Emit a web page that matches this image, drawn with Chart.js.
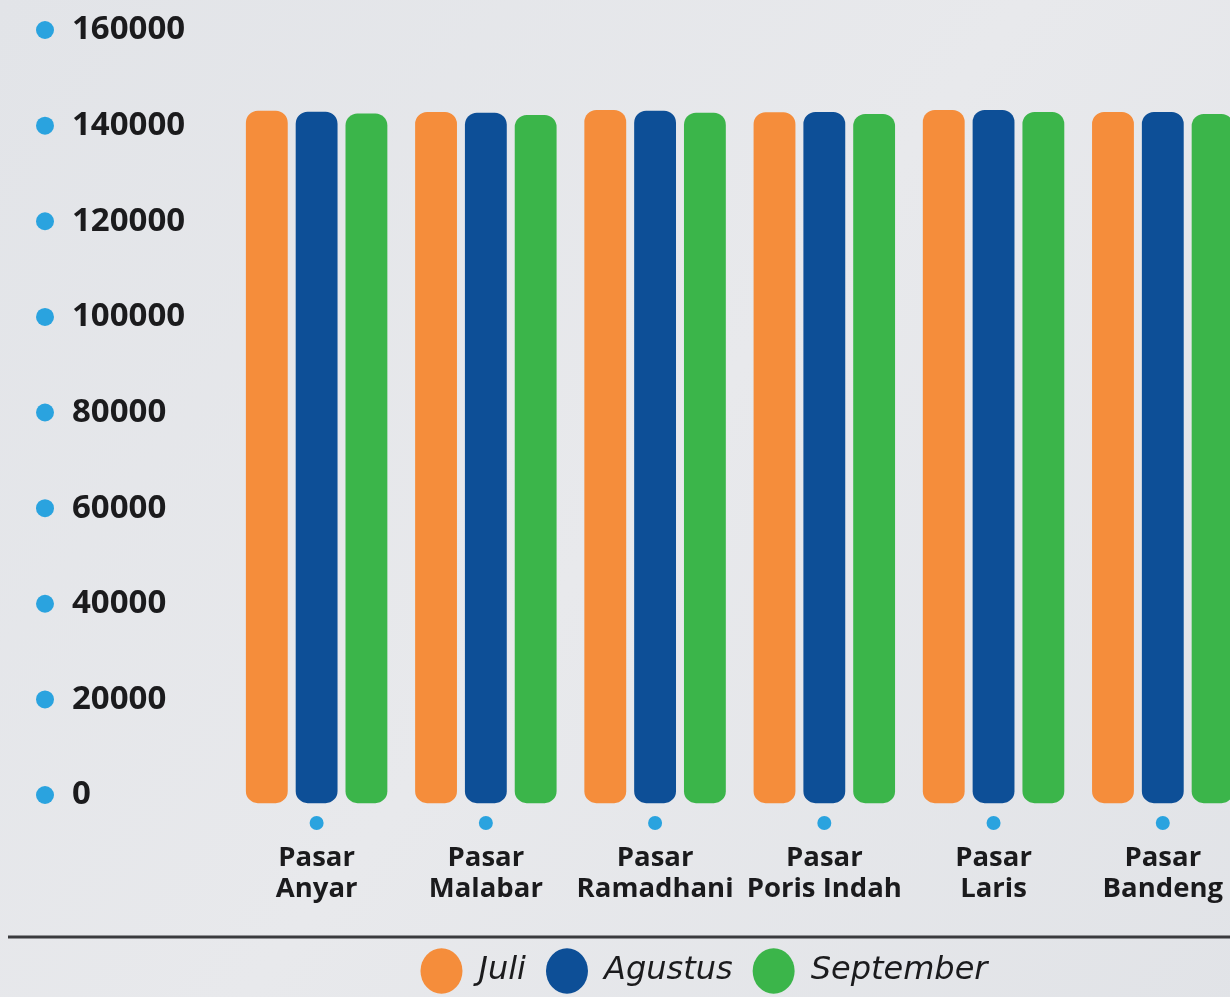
<!DOCTYPE html>
<html>
<head>
<meta charset="utf-8">
<script src="https://cdn.jsdelivr.net/npm/chart.js@4"></script>
<style>
  html, body { margin: 0; padding: 0; overflow: hidden; width: 1230px; height: 997px; }
  body { background: #e4e6e9; }
  #wrap { position: absolute; left: 0; top: 0; width: 1272px; height: 997px; }
</style>
</head>
<body>
<div id="wrap"><canvas id="c" width="1272" height="997"></canvas></div>
<script>
const categories = [["Pasar","Anyar"],["Pasar","Malabar"],["Pasar","Ramadhani"],["Pasar","Poris Indah"],["Pasar","Laris"],["Pasar","Bandeng"]];
const seriesNames = ["Juli","Agustus","September"];
const juli = [143100, 142850, 143270, 142780, 143270, 142850];
const agustus = [142900, 142700, 143100, 142850, 143270, 142850];
const september = [142550, 142220, 142700, 142430, 142850, 142430];
const yTicks = [0, 20000, 40000, 60000, 80000, 100000, 120000, 140000, 160000];

const colors = ["#f58d3b", "#0d4f97", "#3bb54a"];
const dotColor = "#2aa3df";
const textColor = "#1b1b1d";

const bgPlugin = {
  id: 'bg',
  beforeDraw(chart) {
    const {ctx, width, height} = chart;
    ctx.save();
    const g = ctx.createLinearGradient(0, 0, width, height);
    g.addColorStop(0, "#e2e4e8");
    g.addColorStop(0.5, "#e8e9ec");
    g.addColorStop(1, "#e1e3e7");
    ctx.fillStyle = g;
    ctx.fillRect(0, 0, width, height);
    ctx.restore();
  }
};

const legendShift = {
  id: 'legendShift',
  afterLayout(chart) {
    if (chart.legend) { chart.legend.left += 38; chart.legend.right += 38; }
  }
};

const decoPlugin = {
  id: 'deco',
  afterDraw(chart) {
    const {ctx} = chart;
    const y = chart.scales.y, x = chart.scales.x;
    ctx.save();
    ctx.fillStyle = dotColor;
    y.ticks.forEach((t, i) => {
      const py = y.getPixelForTick(i);
      ctx.beginPath(); ctx.arc(45, py, 9, 0, Math.PI * 2); ctx.fill();
    });
    x.ticks.forEach((t, i) => {
      const px = x.getPixelForTick(i);
      ctx.beginPath(); ctx.arc(px, y.bottom + 28, 7, 0, Math.PI * 2); ctx.fill();
    });
    ctx.strokeStyle = "#3a3b3e";
    ctx.lineWidth = 3;
    ctx.beginPath();
    ctx.moveTo(8, x.bottom + 2);
    ctx.lineTo(chart.width, x.bottom + 2);
    ctx.stroke();
    ctx.restore();
  }
};

new Chart(document.getElementById('c'), {
  type: 'bar',
  data: {
    labels: categories,
    datasets: [juli, agustus, september].map((d, i) => ({
      label: seriesNames[i],
      data: d,
      backgroundColor: colors[i],
      borderRadius: 12,
      borderSkipped: false,
      base: -1700,
      clip: false,
      categoryPercentage: 0.883,
      barPercentage: 0.84
    }))
  },
  options: {
    responsive: false,
    animation: false,
    devicePixelRatio: 1,
    layout: { padding: { left: 72, top: 30, right: 12, bottom: 0 } },
    plugins: {
      tooltip: { enabled: false },
      legend: {
        position: 'bottom',
        labels: {
          usePointStyle: true,
          pointStyleWidth: 42,
          pointStyle: 'circle',
          padding: 20,
          color: textColor,
          font: { family: "'DejaVu Sans'", size: 32, style: 'oblique', weight: 'normal' }
        }
      }
    },
    scales: {
      x: {
        grid: { display: false, drawTicks: false },
        border: { display: false },
        ticks: {
          color: textColor,
          padding: 48,
          maxRotation: 0,
          autoSkip: false,
          font: { family: "'Open Sans'", size: 27.5, weight: '700', lineHeight: 1.13 }
        },
        afterFit(scale) { scale.height = 140; }
      },
      y: {
        min: 0,
        max: 160000,
        afterBuildTicks(scale) { scale.ticks = yTicks.map(v => ({ value: v })); },
        grid: { display: false, drawTicks: false },
        border: { display: false },
        ticks: {
          color: textColor,
          crossAlign: 'far',
          padding: 0,
          callback: (v) => String(v),
          font: { family: "'Open Sans'", size: 33, weight: '700' }
        },
        afterFit(scale) { scale.width = 160; }
      }
    }
  },
  plugins: [bgPlugin, legendShift, decoPlugin]
});
</script>
</body>
</html>
